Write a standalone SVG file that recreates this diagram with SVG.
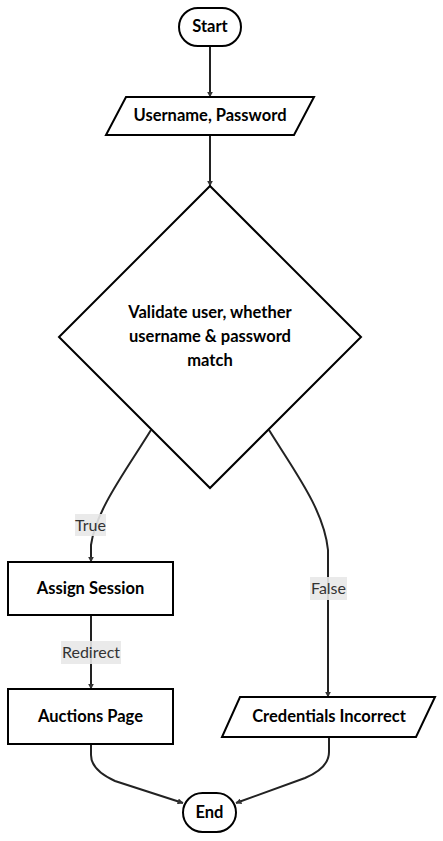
<svg xmlns="http://www.w3.org/2000/svg" width="443" height="841" viewBox="0 0 443 841">
<defs>
<style>
.node{fill:#fff;stroke:#000;stroke-width:2}
.t{font-family:Lato,"Open Sans","DejaVu Sans",sans-serif;font-weight:bold;font-size:16.5px;fill:#000;text-anchor:middle;dominant-baseline:central}
.edge{fill:none;stroke:#222;stroke-width:2}
.lbg{fill:#e8e8e8;opacity:0.9}
.lt{font-family:Lato,"Open Sans","DejaVu Sans",sans-serif;font-size:16px;fill:#333;text-anchor:middle;dominant-baseline:central}
</style>
<marker id="arr" viewBox="0 0 10 10" refX="9" refY="5" markerWidth="6" markerHeight="6" markerUnits="userSpaceOnUse" orient="auto">
<path d="M0,0 L10,5 L0,10 z" fill="#333"/>
</marker>
</defs>
<rect width="443" height="841" fill="#fff"/>
<g id="connectors">
<path class="edge" d="M210,46 V97" marker-end="url(#arr)"/>
<path class="edge" d="M210,135 V186" marker-end="url(#arr)"/>
<path class="edge" d="M151,430 C125,472 96,510 91,545 V562" marker-end="url(#arr)"/>
<path class="edge" d="M269,430 C295,472 324,510 328,550 V697" marker-end="url(#arr)"/>
<path class="edge" d="M91,616 V689" marker-end="url(#arr)"/>
<path class="edge" d="M91,744 V755 Q91,770 115,781 L183,803" marker-end="url(#arr)"/>
<path class="edge" d="M329,737 V752 Q329,768 305,778 L236,803" marker-end="url(#arr)"/>
<g id="label-true"><rect class="lbg" x="75" y="514" width="31" height="22"/><text class="lt" x="90.5" y="524">True</text></g>
<g id="label-false"><rect class="lbg" x="310" y="577" width="37" height="23"/><text class="lt" x="328.5" y="587.5">False</text></g>
<g id="label-redirect"><rect class="lbg" x="61" y="641" width="60" height="23"/><text class="lt" x="91" y="651.5">Redirect</text></g>
</g>
<g id="start"><rect class="node" x="179" y="8" width="62" height="38" rx="19"/><text class="t" x="210" y="26">Start</text></g>
<g id="input"><polygon class="node" points="126,97 314,97 294,135 106,135"/><text class="t" x="210" y="115">Username, Password</text></g>
<g id="validate"><polygon class="node" points="210,186 361,337 210,488 59,337"/>
<text class="t" x="210" y="312">Validate user, whether</text>
<text class="t" x="210" y="336">username &amp; password</text>
<text class="t" x="210" y="360">match</text></g>
<g id="assign"><rect class="node" x="8" y="562" width="165" height="53"/><text class="t" x="90.5" y="587.5">Assign Session</text></g>
<g id="auctions"><rect class="node" x="8" y="689" width="165" height="55"/><text class="t" x="90.5" y="715.5">Auctions Page</text></g>
<g id="incorrect"><polygon class="node" points="240,697 435,697 416,737 222,737"/><text class="t" x="329" y="716">Credentials Incorrect</text></g>
<g id="end"><rect class="node" x="183" y="793" width="53" height="39" rx="19.5"/><text class="t" x="209.5" y="812">End</text></g>
</svg>
